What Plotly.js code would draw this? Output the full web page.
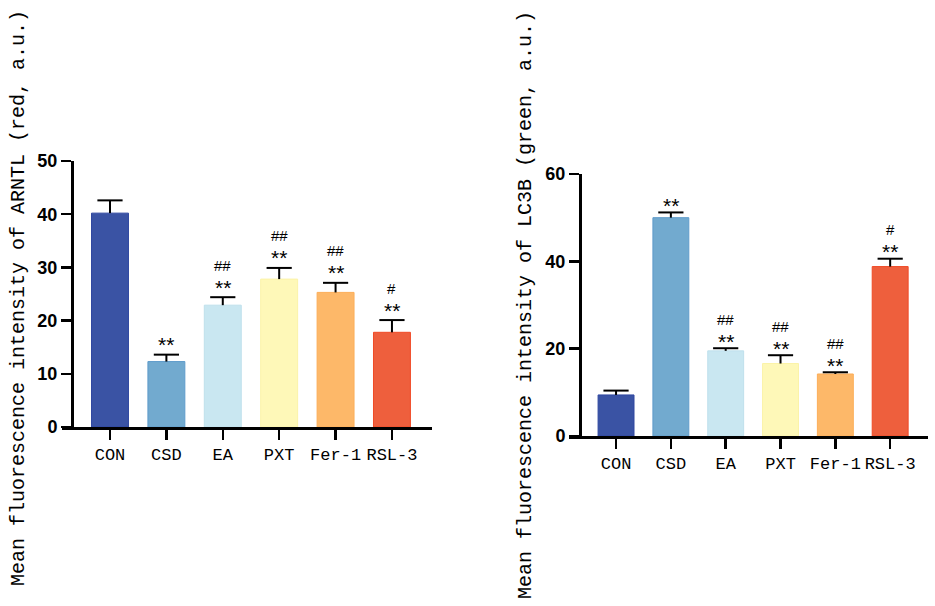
<!DOCTYPE html>
<html>
<head>
<meta charset="utf-8">
<script src="https://cdn.plot.ly/plotly-3.0.1.min.js"></script>
<style>html,body{margin:0;padding:0;background:#fff;}#chart{width:935px;height:606px;}</style>
</head>
<body>
<div id="chart"></div>
<script>
var groups = ["CON", "CSD", "EA", "PXT", "Fer-1", "RSL-3"];
var fillColors = ["#3A53A4", "#72AACF", "#C9E7F1", "#FEF8B8", "#FDB869", "#EE5F3D"];
var lineColors = ["#2F47A0", "#5F9CCB", "#BFE0EC", "#FBF3A8", "#FCAE58", "#F04A26"];

var arntlMean = [40.2, 12.3, 22.9, 27.8, 25.3, 17.8];
var arntlTop  = [42.6, 13.6, 24.4, 29.9, 27.1, 20.1];
var arntlStar = ["", "**", "**", "**", "**", "**"];
var arntlHash = ["", "", "##", "##", "##", "#"];

var lc3bMean = [9.4, 50.0, 19.5, 16.6, 14.2, 38.8];
var lc3bTop  = [10.4, 51.2, 20.1, 18.5, 14.6, 40.6];
var lc3bStar = ["", "**", "**", "**", "**", "**"];
var lc3bHash = ["", "", "##", "##", "##", "#"];

var leftTitle = "Mean fluorescence intensity of ARNTL (red, a.u.)";
var rightTitle = "Mean fluorescence intensity of LC3B (green, a.u.)";

function diff(a, b) { return a.map(function (v, i) { return v - b[i]; }); }
function zeros(a) { return a.map(function () { return 0; }); }

function barTrace(means, xa, ya) {
  return {
    type: "bar", x: groups, y: means, xaxis: xa, yaxis: ya,
    marker: { color: fillColors, line: { color: lineColors, width: 1 } },
    hoverinfo: "none", showlegend: false
  };
}
// upper-only error bar: vertical stem from the bar top, cap drawn as a horizontal marker
function errTrace(means, tops, xa, ya) {
  return {
    type: "scatter", mode: "markers", x: groups, y: tops, xaxis: xa, yaxis: ya,
    marker: { symbol: "line-ew", size: 18, color: "#000", line: { color: "#000", width: 2 } },
    error_y: { type: "data", symmetric: false, array: zeros(tops), arrayminus: diff(tops, means),
      color: "#000", thickness: 2, width: 0 },
    hoverinfo: "none", showlegend: false, cliponaxis: false
  };
}

var data = [
  barTrace(arntlMean, "x", "y"),
  errTrace(arntlMean, arntlTop, "x", "y"),
  barTrace(lc3bMean, "x2", "y2"),
  errTrace(lc3bMean, lc3bTop, "x2", "y2")
];

var annotations = [];
function addMarks(tops, stars, hashes, xr, yr, starShift, hashShift) {
  groups.forEach(function (g, i) {
    if (stars[i]) annotations.push({ x: g, y: tops[i], xref: xr, yref: yr, text: stars[i],
      showarrow: false, yanchor: "middle", yshift: starShift,
      font: { family: "Liberation Sans, Arial", size: 21, color: "#000" } });
    if (hashes[i]) annotations.push({ x: g, y: tops[i], xref: xr, yref: yr, text: hashes[i],
      showarrow: false, yanchor: "middle", yshift: hashShift,
      font: { family: "Liberation Sans, Arial", size: 15, color: "#000" } });
  });
}
addMarks(arntlTop, arntlStar, arntlHash, "x", "y", 10, 32);
addMarks(lc3bTop, lc3bStar, lc3bHash, "x2", "y2", 7, 29);

annotations.push({ text: leftTitle, xref: "paper", yref: "paper", x: 18 / 935, y: 1 - 298 / 606,
  textangle: -90, showarrow: false, xanchor: "center", yanchor: "middle",
  font: { family: "Liberation Mono, DejaVu Sans Mono, monospace", size: 20, color: "#000" } });
annotations.push({ text: rightTitle, xref: "paper", yref: "paper", x: 525 / 935, y: 1 - 305 / 606,
  textangle: -90, showarrow: false, xanchor: "center", yanchor: "middle",
  font: { family: "Liberation Mono, DejaVu Sans Mono, monospace", size: 20, color: "#000" } });

var xTickFont = { family: "Liberation Mono, DejaVu Sans Mono, monospace", size: 17, color: "#000" };
var yTickFont = { family: "Liberation Sans, Arial", size: 18, color: "#000", weight: "bold" };

function xAxis(domain, range, yanchor) {
  return { domain: domain, range: range, anchor: yanchor, type: "category", tickangle: 0,
    showline: true, linecolor: "#000", linewidth: 2.5, ticks: "outside", ticklen: 10,
    tickwidth: 2.5, tickcolor: "#000", tickfont: xTickFont, showgrid: false, zeroline: false,
    fixedrange: true };
}
function yAxis(domain, range, dtick, pos) {
  return { domain: domain, range: range, anchor: "free", position: pos, dtick: dtick,
    showline: true, linecolor: "#000", linewidth: 2.5, ticks: "outside", ticklen: 10,
    tickwidth: 2.5, tickcolor: "#000", tickfont: yTickFont, showgrid: false, zeroline: false,
    fixedrange: true };
}

var layout = {
  width: 935, height: 606,
  margin: { l: 0, r: 0, t: 0, b: 0 },
  paper_bgcolor: "#fff", plot_bgcolor: "rgba(0,0,0,0)",
  bargap: 0.345,
  xaxis: xAxis([62 / 935, 432 / 935], [-0.851, 5.71], "y"),
  yaxis: yAxis([1 - 427 / 606, 1 - 161 / 606], [0, 50], 10, 72 / 935),
  xaxis2: xAxis([569 / 935, 928 / 935], [-0.858, 5.69], "y2"),
  yaxis2: yAxis([1 - 436 / 606, 1 - 174 / 606], [0, 60], 20, 580 / 935),
  annotations: annotations
};

Plotly.newPlot("chart", data, layout, { displayModeBar: false, staticPlot: true });
</script>
</body>
</html>
